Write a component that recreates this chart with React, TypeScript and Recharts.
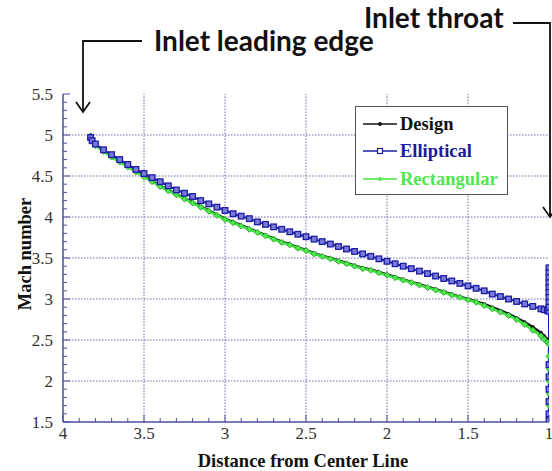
import React from 'react';
import { LineChart, Line, XAxis, YAxis, ReferenceLine, Legend, Label } from 'recharts';

// ---- data ----
const distance = [
  3.83, 3.82, 3.8, 3.75, 3.7, 3.65, 3.6, 3.55, 3.5, 3.45, 3.4, 3.35, 3.3, 3.25, 3.2, 3.15, 3.1, 3.05,
  3.0, 2.95, 2.9, 2.85, 2.8, 2.75, 2.7, 2.65, 2.6, 2.55, 2.5, 2.45, 2.4, 2.35, 2.3, 2.25, 2.2, 2.15,
  2.1, 2.05, 2.0, 1.95, 1.9, 1.85, 1.8, 1.75, 1.7, 1.65, 1.6, 1.55, 1.5, 1.45, 1.4, 1.35, 1.3, 1.25,
  1.2, 1.15, 1.1, 1.05, 1.03, 1.01, 1.0,
];
const machDesign = [
  5.0, 4.94, 4.88, 4.81, 4.74, 4.68, 4.62, 4.56, 4.5, 4.44, 4.38, 4.33, 4.28, 4.23, 4.18, 4.13, 4.08, 4.03,
  3.98, 3.94, 3.9, 3.86, 3.82, 3.78, 3.74, 3.7, 3.67, 3.63, 3.6, 3.56, 3.53, 3.5, 3.47, 3.44, 3.41, 3.38,
  3.36, 3.33, 3.3, 3.27, 3.24, 3.21, 3.18, 3.15, 3.12, 3.09, 3.06, 3.03, 3.0, 2.97, 2.94, 2.9, 2.86, 2.82,
  2.77, 2.72, 2.66, 2.59, 2.55, 2.51, 2.49,
];
const machElliptical = [
  4.97, 4.93, 4.89, 4.82, 4.76, 4.7, 4.64, 4.58, 4.53, 4.48, 4.43, 4.38, 4.33, 4.29, 4.25, 4.2, 4.16, 4.12,
  4.08, 4.04, 4.01, 3.98, 3.94, 3.91, 3.88, 3.85, 3.82, 3.79, 3.76, 3.73, 3.7, 3.67, 3.64, 3.61, 3.58, 3.55,
  3.52, 3.49, 3.46, 3.43, 3.4, 3.37, 3.34, 3.31, 3.28, 3.25, 3.22, 3.19, 3.16, 3.13, 3.1, 3.06, 3.03, 3.0,
  2.97, 2.94, 2.91, 2.88, 2.87, 2.86, 2.85,
];
const machRectangular = [
  4.99, 4.93, 4.87, 4.8, 4.73, 4.67, 4.61, 4.55, 4.49, 4.43, 4.37, 4.32, 4.27, 4.22, 4.17, 4.12, 4.07, 4.02,
  3.97, 3.93, 3.89, 3.85, 3.81, 3.77, 3.73, 3.69, 3.66, 3.62, 3.59, 3.55, 3.52, 3.49, 3.46, 3.43, 3.4, 3.37,
  3.35, 3.32, 3.29, 3.26, 3.23, 3.2, 3.17, 3.14, 3.11, 3.08, 3.05, 3.02, 2.99, 2.96, 2.92, 2.88, 2.84, 2.8,
  2.75, 2.69, 2.62, 2.55, 2.51, 2.47, 2.45,
];
// values stacked on the throat station (distance = 1)
const throatDistance = 1.0;
const ellipticalThroat = [3.38, 3.32, 3.26, 3.2, 3.14, 3.08, 3.02, 2.96, 2.9, 2.2, 2.05, 1.9, 1.75, 1.6, 1.52];
const rectangularThroat = [2.3, 2.15, 2.0, 1.85, 1.7, 1.55];

const seriesNames = ['Design', 'Elliptical', 'Rectangular'];
const xMajorTicks = [4, 3.5, 3, 2.5, 2, 1.5, 1];
const xTickLabels = ['4', '3.5', '3', '2.5', '2', '1.5', '1'];
const yMajorTicks = [1.5, 2, 2.5, 3, 3.5, 4, 4.5, 5, 5.5];
const yTickLabels = ['1.5', '2', '2.5', '3', '3.5', '4', '4.5', '5', '5.5'];
const xGridValues = [3.5, 3, 2.5, 2, 1.5];
const yGridValues = [2, 2.5, 3, 3.5, 4, 4.5, 5];

// ---- styling ----
const AXIS = '#4d4d9e';
const GRID = '#6a6aa8';
const TICK_TEXT = '#333333';
const SERIF = 'Liberation Serif';
const C_DESIGN = '#151515';
const C_ELLIPTICAL = '#1c1ca6';
const C_RECT = '#3fe53f';
const C_RECT_TEXT = '#4ee84e';

const xTicks: number[] = [];
for (let k = 10; k <= 40; k++) xTicks.push(k / 10);
const yTicks: number[] = [];
for (let k = 15; k <= 55; k++) yTicks.push(k / 10);

const isMajor = (v: number) => Math.abs(v * 2 - Math.round(v * 2)) < 1e-6;
const labelFor = (v: number, majors: number[], labels: string[]) => {
  const i = majors.findIndex((m) => Math.abs(m - v) < 1e-6);
  return i >= 0 ? labels[i] : '';
};

const designData = distance.map((x, i) => ({ x, y: machDesign[i] }));
const ellipticalData = [
  ...distance.map((x, i) => ({ x, y: machElliptical[i] })),
  ...ellipticalThroat.map((y) => ({ x: throatDistance, y })),
];
const rectangularData = [
  ...distance.map((x, i) => ({ x, y: machRectangular[i] })),
  ...rectangularThroat.map((y) => ({ x: throatDistance, y })),
];

const tickTextStyle: React.CSSProperties = { fontFamily: SERIF, fontSize: 17, fill: TICK_TEXT };

const BottomTick = (props: any) => {
  const { x, y, payload } = props;
  const v = payload.value;
  const major = isMajor(v);
  return (
    <g>
      <line x1={x} x2={x} y1={y} y2={y - (major ? 7 : 4)} stroke={AXIS} strokeWidth={1} />
      {major && (
        <text x={x} y={y + 17} textAnchor="middle" style={tickTextStyle}>
          {labelFor(v, xMajorTicks, xTickLabels)}
        </text>
      )}
    </g>
  );
};
const TopTick = (props: any) => {
  const { x, y, payload } = props;
  const major = isMajor(payload.value);
  return <line x1={x} x2={x} y1={y} y2={y + (major ? 7 : 4)} stroke={AXIS} strokeWidth={1} />;
};
const LeftTick = (props: any) => {
  const { x, y, payload } = props;
  const v = payload.value;
  const major = isMajor(v);
  return (
    <g>
      <line x1={x} x2={x + (major ? 7 : 4)} y1={y} y2={y} stroke={AXIS} strokeWidth={1} />
      {major && (
        <text x={x - 10} y={y + 6} textAnchor="end" style={tickTextStyle}>
          {labelFor(v, yMajorTicks, yTickLabels)}
        </text>
      )}
    </g>
  );
};
const RightTick = (props: any) => {
  const { x, y, payload } = props;
  const major = isMajor(payload.value);
  return <line x1={x} x2={x - (major ? 7 : 4)} y1={y} y2={y} stroke={AXIS} strokeWidth={1} />;
};

const DesignDot = (props: any) => {
  const { cx, cy, index } = props;
  if (cx == null || cy == null) return <g key={`d${index}`} />;
  return <circle key={`d${index}`} cx={cx} cy={cy} r={1.8} fill={C_DESIGN} />;
};
const EllipticalDot = (props: any) => {
  const { cx, cy, index } = props;
  if (cx == null || cy == null) return <g key={`e${index}`} />;
  return (
    <rect key={`e${index}`} x={cx - 2.8} y={cy - 2.8} width={5.6} height={5.6} fill="#7a7ad8" stroke={C_ELLIPTICAL} strokeWidth={1.3} />
  );
};
const RectDot = (props: any) => {
  const { cx, cy, index } = props;
  if (cx == null || cy == null) return <g key={`r${index}`} />;
  return (
    <polygon
      key={`r${index}`}
      points={`${cx},${cy - 3} ${cx + 3},${cy} ${cx},${cy + 3} ${cx - 3},${cy}`}
      fill="#4cec4c"
      stroke="#2f9f2f"
      strokeWidth={0.9}
    />
  );
};

const legendStyle: Record<string, { color: string; text: string; marker: 'dot' | 'square' | 'diamond' }> = {
  Design: { color: C_DESIGN, text: '#111111', marker: 'dot' },
  Elliptical: { color: C_ELLIPTICAL, text: '#1a1a9c', marker: 'square' },
  Rectangular: { color: C_RECT, text: C_RECT_TEXT, marker: 'diamond' },
};

const LegendContent = () => (
  <div
    style={{
      width: 153,
      height: 89,
      boxSizing: 'border-box',
      border: '1.5px solid #555',
      background: '#fff',
      paddingTop: 3,
    }}
  >
    {seriesNames.map((name) => {
      const s = legendStyle[name];
      return (
        <div key={name} style={{ height: 27.5, display: 'flex', alignItems: 'center' }}>
          <svg width={44} height={14} style={{ flex: 'none' }}>
            <line x1={7} x2={41} y1={7} y2={7} stroke={s.color} strokeWidth={1.5} />
            {s.marker === 'dot' && <circle cx={24} cy={7} r={2} fill={s.color} />}
            {s.marker === 'square' && (
              <rect x={21.5} y={4.5} width={5} height={5} fill="#fff" stroke={s.color} strokeWidth={1.2} />
            )}
            {s.marker === 'diamond' && <circle cx={24} cy={7} r={2} fill="#4cec4c" />}
          </svg>
          <span
            style={{
              fontFamily: SERIF,
              fontWeight: 700,
              fontSize: 18.5,
              color: s.text,
              lineHeight: '18px',
              whiteSpace: 'nowrap',
            }}
          >
            {name}
          </span>
        </div>
      );
    })}
  </div>
);

const annStyle: React.CSSProperties = { fontFamily: 'Lato', fontWeight: 700, fontSize: 28, fill: '#111' };

export default function App() {
  return (
    <div style={{ position: 'absolute', left: 0, top: 0, width: 552, height: 471, background: '#fff' }}>
      <LineChart width={552} height={471} margin={{ top: 94, right: 3, bottom: 19, left: 23 }}>
        {xGridValues.map((v) => (
          <ReferenceLine key={`gx${v}`} x={v} stroke={GRID} strokeDasharray="1.5 1.5" strokeWidth={1} />
        ))}
        {yGridValues.map((v) => (
          <ReferenceLine key={`gy${v}`} y={v} stroke={GRID} strokeDasharray="1.5 1.5" strokeWidth={1} />
        ))}
        <XAxis
          dataKey="x"
          type="number"
          domain={[1, 4]}
          reversed
          allowDataOverflow
          ticks={xTicks}
          interval={0}
          tickSize={0}
          tickMargin={0}
          tickLine={false}
          tick={BottomTick}
          height={30}
          axisLine={{ stroke: AXIS, strokeWidth: 1.5 }}
        >
          <Label
            content={(p: any) => {
              const vb = p.viewBox || { x: 63, y: 422, width: 486 };
              return (
                <text
                  x={vb.x + vb.width / 2 - 3}
                  y={vb.y + 45}
                  textAnchor="middle"
                  style={{ fontFamily: SERIF, fontWeight: 700, fontSize: 18.5, fill: '#111' }}
                >
                  Distance from Center Line
                </text>
              );
            }}
          />
        </XAxis>
        <XAxis
          xAxisId="top"
          orientation="top"
          dataKey="x"
          type="number"
          domain={[1, 4]}
          reversed
          allowDataOverflow
          ticks={xTicks}
          interval={0}
          tickSize={0}
          tickMargin={0}
          tickLine={false}
          tick={TopTick}
          height={0}
          axisLine={{ stroke: AXIS, strokeWidth: 1.5 }}
        />
        <YAxis
          type="number"
          domain={[1.5, 5.5]}
          allowDataOverflow
          ticks={yTicks}
          interval={0}
          tickSize={0}
          tickMargin={0}
          tickLine={false}
          tick={LeftTick}
          width={40}
          axisLine={{ stroke: AXIS, strokeWidth: 1.5 }}
        >
          <Label
            content={(p: any) => {
              const vb = p.viewBox || { x: 23, y: 94, height: 328 };
              const cx = vb.x + 2;
              const cy = vb.y + vb.height / 2 - 4;
              return (
                <text
                  x={cx}
                  y={cy}
                  transform={`rotate(-90 ${cx} ${cy})`}
                  textAnchor="middle"
                  dominantBaseline="central"
                  style={{ fontFamily: SERIF, fontWeight: 700, fontSize: 18.5, fill: '#111' }}
                >
                  Mach number
                </text>
              );
            }}
          />
        </YAxis>
        <YAxis
          yAxisId="right"
          orientation="right"
          type="number"
          domain={[1.5, 5.5]}
          allowDataOverflow
          ticks={yTicks}
          interval={0}
          tickSize={0}
          tickMargin={0}
          tickLine={false}
          tick={RightTick}
          width={0}
          axisLine={{ stroke: AXIS, strokeWidth: 1.5 }}
        />
        <Legend
          layout="vertical"
          align="center"
          verticalAlign="middle"
          content={LegendContent}
          wrapperStyle={{ left: 355, top: 106, width: 153, height: 89 }}
        />
        <Line
          name="Design"
          data={designData}
          dataKey="y"
          stroke={C_DESIGN}
          strokeWidth={2.4}
          dot={DesignDot}
          activeDot={false}
          isAnimationActive={false}
        />
        <Line
          name="Rectangular"
          data={rectangularData}
          dataKey="y"
          stroke={C_RECT}
          strokeWidth={2.6}
          dot={RectDot}
          activeDot={false}
          isAnimationActive={false}
        />
        <Line
          name="Elliptical"
          data={ellipticalData}
          dataKey="y"
          stroke={C_ELLIPTICAL}
          strokeWidth={2}
          dot={EllipticalDot}
          activeDot={false}
          isAnimationActive={false}
        />
      </LineChart>
      <svg
        width={552}
        height={471}
        style={{ position: 'absolute', left: 0, top: 0, pointerEvents: 'none' }}
      >
        <text x={154} y={51} style={annStyle}>
          Inlet leading edge
        </text>
        <polyline points="142,41 83,41 83,112" fill="none" stroke="#111" strokeWidth={1.8} />
        <polyline points="76,102 83,112 90,102" fill="none" stroke="#111" strokeWidth={1.8} />
        <text x={364} y={28} style={annStyle}>
          Inlet throat
        </text>
        <polyline points="513,23 550,23 550,217" fill="none" stroke="#111" strokeWidth={1.8} />
        <polyline points="543,207 550,217 557,207" fill="none" stroke="#111" strokeWidth={1.8} />
      </svg>
    </div>
  );
}
